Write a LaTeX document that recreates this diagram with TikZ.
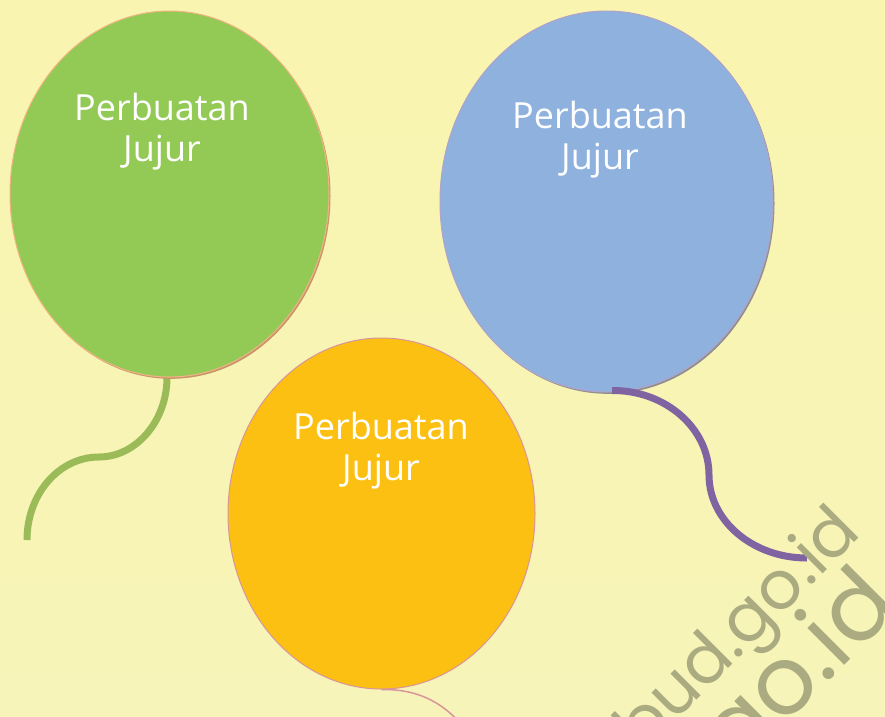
\documentclass[tikz,border=0pt]{standalone}
\usepackage{fontspec}
\setmainfont{Open Sans}
\newfontfamily\markfont{Poppins}
\usetikzlibrary{shapes.geometric,shadows,backgrounds}
\definecolor{bgtop}{HTML}{F9F5B0}
\definecolor{bgbot}{HTML}{F6F4B8}
\definecolor{balgreen}{HTML}{93C955}
\definecolor{balblue}{HTML}{8EB1DE}
\definecolor{balorange}{HTML}{FCC012}
\definecolor{rimgreen}{HTML}{F2B482}
\definecolor{rimblue}{HTML}{B3A2C7}
\definecolor{shdgreen}{HTML}{C8956A}
\definecolor{shdblue}{HTML}{8F8F8F}
\definecolor{strgreen}{HTML}{9BBB59}
\definecolor{strpurple}{HTML}{8064A2}
\definecolor{strpink}{HTML}{D9959B}
\definecolor{wmgray}{HTML}{ABAB82}
\begin{document}
\begin{tikzpicture}[x=1pt,y=-1pt]
  \tikzset{ bal/.style={ellipse,inner sep=0pt,line width=1pt},
    txt/.style={white,inner sep=0pt,anchor=north,align=center,font=\fontsize{36}{41}\selectfont},
    str/.style={line width=7pt},
    wm/.style={wmgray,inner sep=0pt,anchor=base east,rotate=45},
  }
  \clip (0,0) rectangle (885,716);

  % the balloons
  \node[bal,fill=balgreen,draw=rimgreen,
    drop shadow={shadow xshift=1.5pt,shadow yshift=-1.8pt,fill=shdgreen,opacity=1},
    minimum width=319pt,minimum height=366pt] (green) at (169.5,194) {};
  \node[bal,fill=balblue,draw=rimblue,
    drop shadow={shadow xshift=1.5pt,shadow yshift=-1.8pt,fill=shdblue,opacity=1},
    minimum width=333pt,minimum height=381pt] (blue) at (606.5,201.5) {};
  \node[bal,fill=balorange,draw=strpink,
    minimum width=307pt,minimum height=351pt] (orange) at (381.5,513.5) {};

  \node[txt] (gtxt) at (162,92.5) {Perbuatan\\Jujur};
  \node[txt] (btxt) at (600,101) {Perbuatan\\Jujur};
  \node[txt] (otxt) at (381,412) {Perbuatan\\Jujur};

  % strings
  \coordinate (gend) at (27,540);
  \coordinate (pend) at (807,558);
  \coordinate (oend) at (462,725);
  \begin{pgfonlayer}{background}
    \shade[top color=bgtop,bottom color=bgbot] (0,0) rectangle (885,716);
    \draw[str,strgreen] ([xshift=-2.5pt]green.south) .. controls (167,421) and (136,457) .. (99,457)
      .. controls (59,457) and (27,494) .. (gend);
  \end{pgfonlayer}
  \draw[str,strpurple] ([xshift=5.5pt,yshift=2pt]blue.south) .. controls (665,390) and (709,428) .. (709,475)
    .. controls (709,521) and (753,558) .. (pend);
  \draw[line width=1.5pt,strpink] (orange.south) .. controls (415,689) and (440,700) .. (oend);

  \node[wm,font=\markfont\fontsize{67}{67}\selectfont] (wm1) at (863,534) {kemdikbud.go.id};
  \node[wm,font=\markfont\fontsize{95}{95}\selectfont] (wm2) at (902,608) {kemdikbud.go.id};
\end{tikzpicture}
\end{document}
